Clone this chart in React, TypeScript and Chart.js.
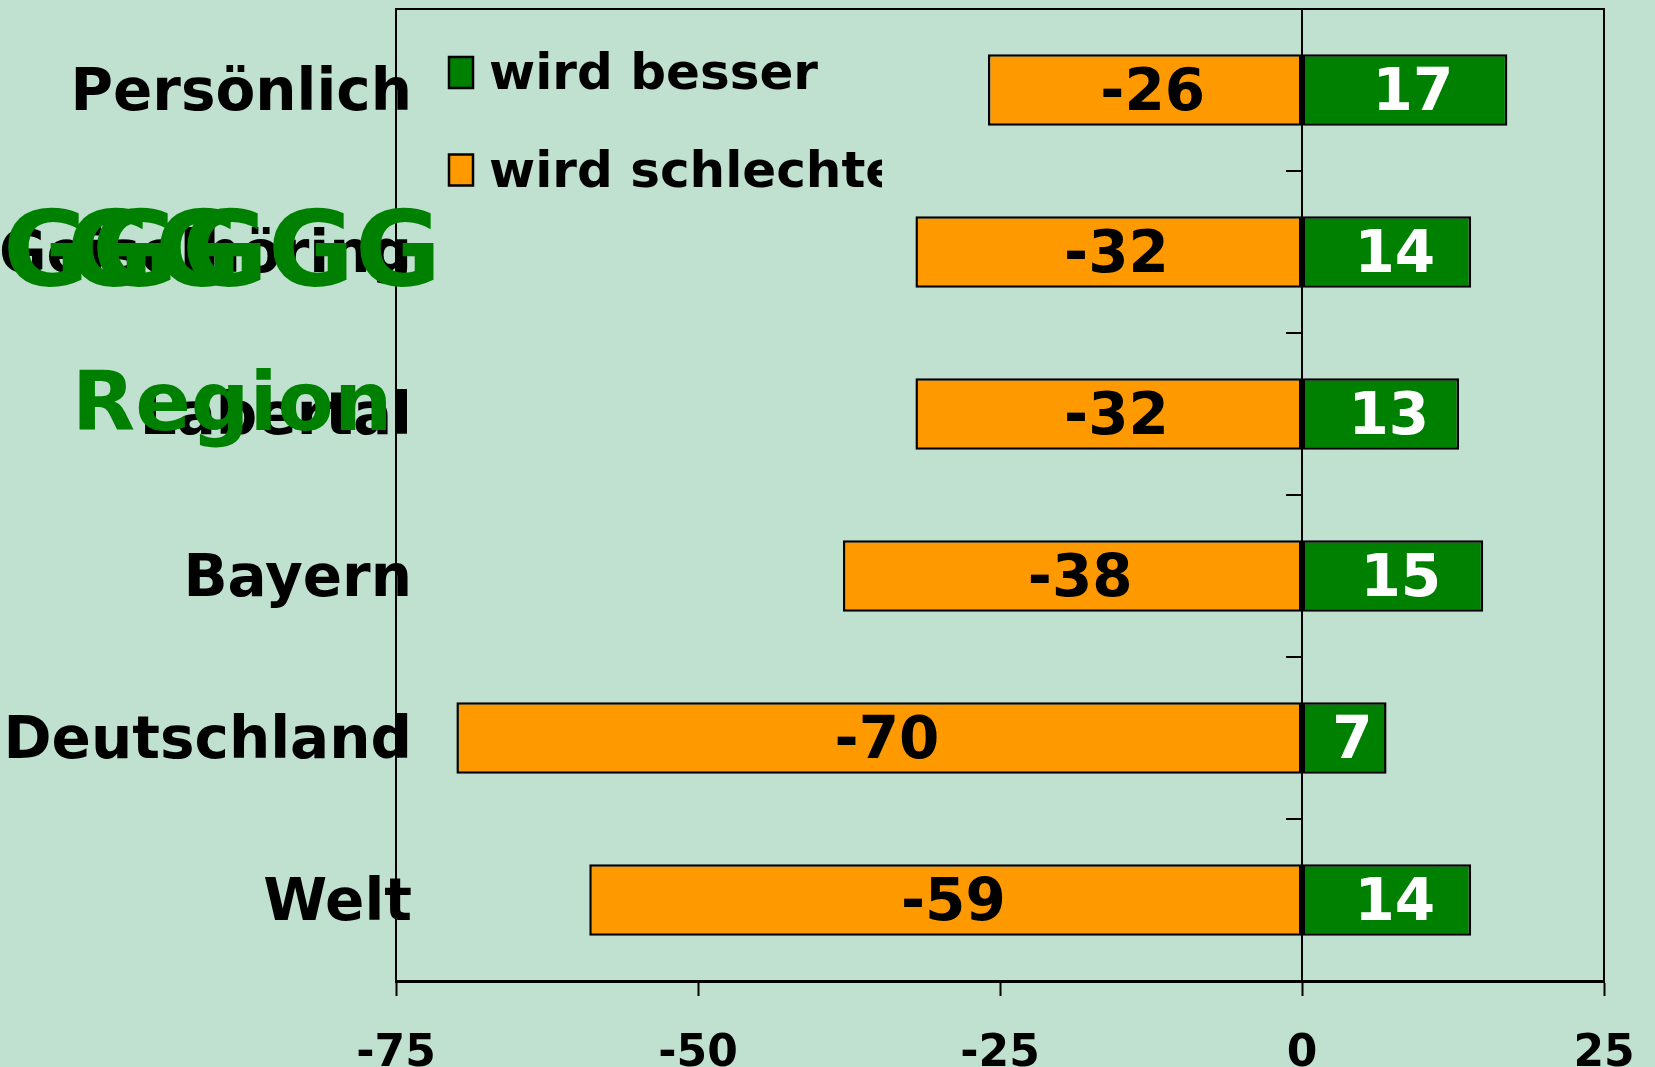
import React, { useEffect, useRef } from "react";
import { Chart, registerables } from "chart.js";

Chart.register(...registerables);

const categories = ["Persönlich", "Geiselhöring", "Labertal", "Bayern", "Deutschland", "Welt"];
const seriesNames = ["wird besser", "wird schlechter"];
const besserValues = [17, 14, 13, 15, 7, 14];
const schlechterValues = [-26, -32, -32, -38, -70, -59];
const xTicks = [-75, -50, -25, 0, 25];

const FONT = "'DejaVu Sans', Verdana, sans-serif";
const GREEN = "#008000";
const ORANGE = "#FF9900";
const BG = "#C0E0D0";

const W = 1655;
const H = 1067;

const bgPlugin = {
  id: "bgFill",
  beforeDraw(chart: any) {
    const ctx = chart.ctx;
    ctx.save();
    ctx.fillStyle = BG;
    ctx.fillRect(0, 0, chart.width, chart.height);
    ctx.restore();
  },
};

// category labels, placed with the y scale, allowed to overlap the frame
const yLabelPlugin = {
  id: "yLabels",
  beforeDatasetsDraw(chart: any) {
    const { ctx, chartArea, scales } = chart;
    const y = scales.y;
    ctx.save();
    ctx.fillStyle = "#000";
    ctx.font = `bold 58px ${FONT}`;
    ctx.textAlign = "right";
    ctx.textBaseline = "middle";
    y.getLabels().forEach((lab: string, i: number) => {
      ctx.fillText(lab, chartArea.left + 16, y.getPixelForTick(i) + 5);
    });
    ctx.restore();
  },
};

const framePlugin = {
  id: "frame",
  afterDatasetsDraw(chart: any) {
    const { ctx, chartArea, scales } = chart;
    ctx.save();
    ctx.strokeStyle = "#000";
    ctx.lineWidth = 2;
    ctx.beginPath();
    ctx.moveTo(chartArea.left, chartArea.bottom);
    ctx.lineTo(chartArea.left, chartArea.top);
    ctx.lineTo(chartArea.right, chartArea.top);
    ctx.lineTo(chartArea.right, chartArea.bottom);
    ctx.stroke();
    // zero line
    const x0 = scales.x.getPixelForValue(0);
    ctx.beginPath();
    ctx.moveTo(x0, chartArea.top);
    ctx.lineTo(x0, chartArea.bottom);
    ctx.stroke();
    // category tick marks at zero line
    const y = scales.y;
    for (let i = 1; i < categories.length; i++) {
      const yy = (y.getPixelForTick(i - 1) + y.getPixelForTick(i)) / 2;
      ctx.beginPath();
      ctx.moveTo(x0 - 16, yy);
      ctx.lineTo(x0, yy);
      ctx.stroke();
    }
    // value labels
    ctx.font = `bold 58px ${FONT}`;
    ctx.textAlign = "center";
    ctx.textBaseline = "middle";
    chart.data.datasets.forEach((ds: any, di: number) => {
      const meta = chart.getDatasetMeta(di);
      meta.data.forEach((bar: any, i: number) => {
        const v = ds.data[i];
        const cx = (bar.x + bar.base) / 2 + 8;
        ctx.fillStyle = ds.labelColor;
        ctx.fillText(String(v), cx, bar.y + 5);
      });
    });
    ctx.restore();
  },
};

const overlayPlugin = {
  id: "overlay",
  afterDraw(chart: any) {
    const ctx = chart.ctx;
    ctx.save();
    // legend inside plot area, clipped
    ctx.beginPath();
    ctx.rect(0, 0, 882, H);
    ctx.clip();
    const items = [
      { name: seriesNames[0], color: GREEN },
      { name: seriesNames[1], color: ORANGE },
    ];
    ctx.font = `bold 50px ${FONT}`;
    ctx.textAlign = "left";
    ctx.textBaseline = "alphabetic";
    items.forEach((it, k) => {
      const base = 89 + k * 97.5;
      ctx.fillStyle = it.color;
      ctx.fillRect(449, base - 32, 24, 31);
      ctx.strokeStyle = "#000";
      ctx.lineWidth = 2.5;
      ctx.strokeRect(449, base - 32, 24, 31);
      ctx.fillStyle = "#000";
      ctx.fillText(it.name, 489, base);
    });
    ctx.restore();

    // green overlay text
    ctx.save();
    ctx.fillStyle = GREEN;
    ctx.textAlign = "left";
    ctx.textBaseline = "alphabetic";
    ctx.font = `bold 105px ${FONT}`;
    [8, 72, 97, 160, 187, 273, 360].forEach((gx) => ctx.fillText("G", gx - 5, 286));
    ctx.font = `bold 82px ${FONT}`;
    ctx.fillText("Region", 72, 430);
    ctx.restore();
  },
};

export default function App() {
  const ref = useRef<HTMLCanvasElement | null>(null);
  useEffect(() => {
    if (!ref.current) return;
    const chart = new Chart(ref.current, {
      type: "bar",
      data: {
        labels: categories,
        datasets: [
          {
            label: seriesNames[1],
            data: schlechterValues,
            backgroundColor: ORANGE,
            borderColor: "#000",
            borderWidth: 2.5,
            borderSkipped: false,
            labelColor: "#000",
          } as any,
          {
            label: seriesNames[0],
            data: besserValues,
            backgroundColor: GREEN,
            borderColor: "#000",
            borderWidth: 2.5,
            borderSkipped: false,
            labelColor: "#fff",
          } as any,
        ],
      },
      options: {
        indexAxis: "y",
        animation: false,
        responsive: false,
        events: [],
        layout: { padding: { left: 0, right: 51, top: 9, bottom: 0 } },
        datasets: { bar: { categoryPercentage: 1, barPercentage: 0.44 } },
        plugins: { legend: { display: false }, tooltip: { enabled: false } },
        scales: {
          x: {
            type: "linear",
            stacked: true,
            min: -75,
            max: 25,
            afterBuildTicks: (s: any) => {
              s.ticks = xTicks.map((v) => ({ value: v }));
            },
            afterFit: (s: any) => {
              s.height = H - 981;
              s.paddingLeft = 0;
              s.paddingRight = 0;
            },
            ticks: {
              color: "#000",
              font: { family: FONT, weight: "bold", size: 44 },
              padding: 32,
              maxRotation: 0,
            },
            grid: {
              drawOnChartArea: false,
              drawTicks: true,
              tickLength: 15,
              tickColor: "#000",
              tickWidth: 2,
            },
            border: { display: true, color: "#000", width: 3 },
          },
          y: {
            type: "category",
            stacked: true,
            offset: true,
            afterFit: (s: any) => {
              s.width = 396;
              s.paddingTop = 0;
              s.paddingBottom = 0;
            },
            ticks: { display: false },
            grid: { display: false, drawTicks: false },
            border: { display: false },
          },
        },
      } as any,
      plugins: [bgPlugin, yLabelPlugin, framePlugin, overlayPlugin],
    });
    return () => chart.destroy();
  }, []);
  return (
    <div style={{ position: "fixed", left: 0, top: 0, width: W, height: H, background: BG }}>
      <canvas ref={ref} width={W} height={H} style={{ display: "block", width: W, height: H }} />
    </div>
  );
}
